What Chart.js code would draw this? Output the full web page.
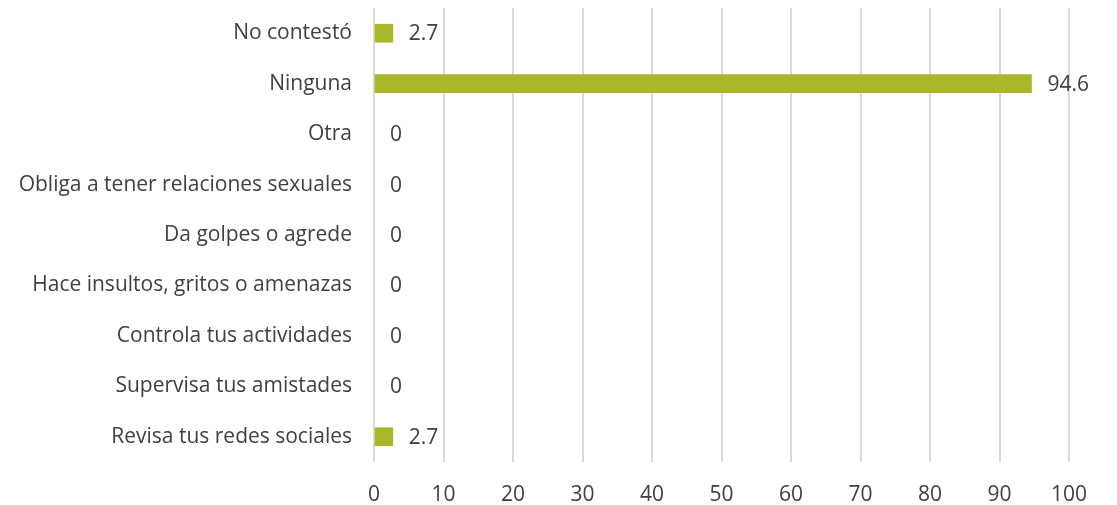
<!DOCTYPE html>
<html>
<head>
<meta charset="utf-8">
<script src="https://cdn.jsdelivr.net/npm/chart.js@4"></script>
<style>
  html, body { margin: 0; padding: 0; background: #ffffff; }
  #wrap { width: 1117px; height: 505px; }
</style>
</head>
<body>
<div id="wrap"><canvas id="chart" width="1117" height="505"></canvas></div>
<script>
// Categories from top to bottom
const categories = [
  "No contestó",
  "Ninguna",
  "Otra",
  "Obliga a tener relaciones sexuales",
  "Da golpes o agrede",
  "Hace insultos, gritos o amenazas",
  "Controla tus actividades",
  "Supervisa tus amistades",
  "Revisa tus redes sociales",
];
const values = [2.7, 94.6, 0, 0, 0, 0, 0, 0, 2.7];
const xTicks = [0, 10, 20, 30, 40, 50, 60, 70, 80, 90, 100];

const barColor = "#A8B828";
const textColor = "#404040";
const fontFamily = "'Open Sans', 'Noto Sans', sans-serif";
const fontSize = 21;

// Draws the value next to the end of every bar
const valueLabels = {
  id: "valueLabels",
  afterDatasetsDraw(chart) {
    const ctx = chart.ctx;
    const meta = chart.getDatasetMeta(0);
    ctx.save();
    ctx.font = fontSize + "px " + fontFamily;
    ctx.fillStyle = textColor;
    ctx.textAlign = "left";
    ctx.textBaseline = "middle";
    meta.data.forEach(function (bar, i) {
      ctx.fillText(String(values[i]), bar.x + 16, bar.y + 1);
    });
    ctx.restore();
  },
};

new Chart(document.getElementById("chart"), {
  type: "bar",
  data: {
    labels: categories,
    datasets: [
      {
        data: values,
        // zero bars are not drawn at all
        backgroundColor: values.map(function (v) {
          return v > 0 ? barColor : "rgba(0,0,0,0)";
        }),
        borderWidth: 0,
        barThickness: 18,
      },
    ],
  },
  options: {
    indexAxis: "y",
    responsive: false,
    animation: false,
    layout: { padding: { top: 8, right: 48, left: 0, bottom: 0 } },
    plugins: {
      legend: { display: false },
      tooltip: { enabled: false },
    },
    scales: {
      x: {
        min: 0,
        max: 100,
        afterBuildTicks: function (axis) {
          axis.ticks = xTicks.map(function (v) { return { value: v }; });
        },
        afterFit: function (axis) { axis.height = 43; },
        grid: { color: "#d9d9d9", lineWidth: 2, drawTicks: false },
        border: { display: false },
        ticks: {
          color: textColor,
          padding: 20,
          font: { size: fontSize, family: fontFamily },
        },
      },
      y: {
        afterFit: function (axis) {
          axis.width = 374;
          axis.paddingTop = 0;
          axis.paddingBottom = 0;
        },
        grid: { display: false, drawTicks: false },
        border: { display: false },
        ticks: {
          color: textColor,
          padding: 22,
          font: { size: fontSize, family: fontFamily },
        },
      },
    },
  },
  plugins: [valueLabels],
});
</script>
</body>
</html>
